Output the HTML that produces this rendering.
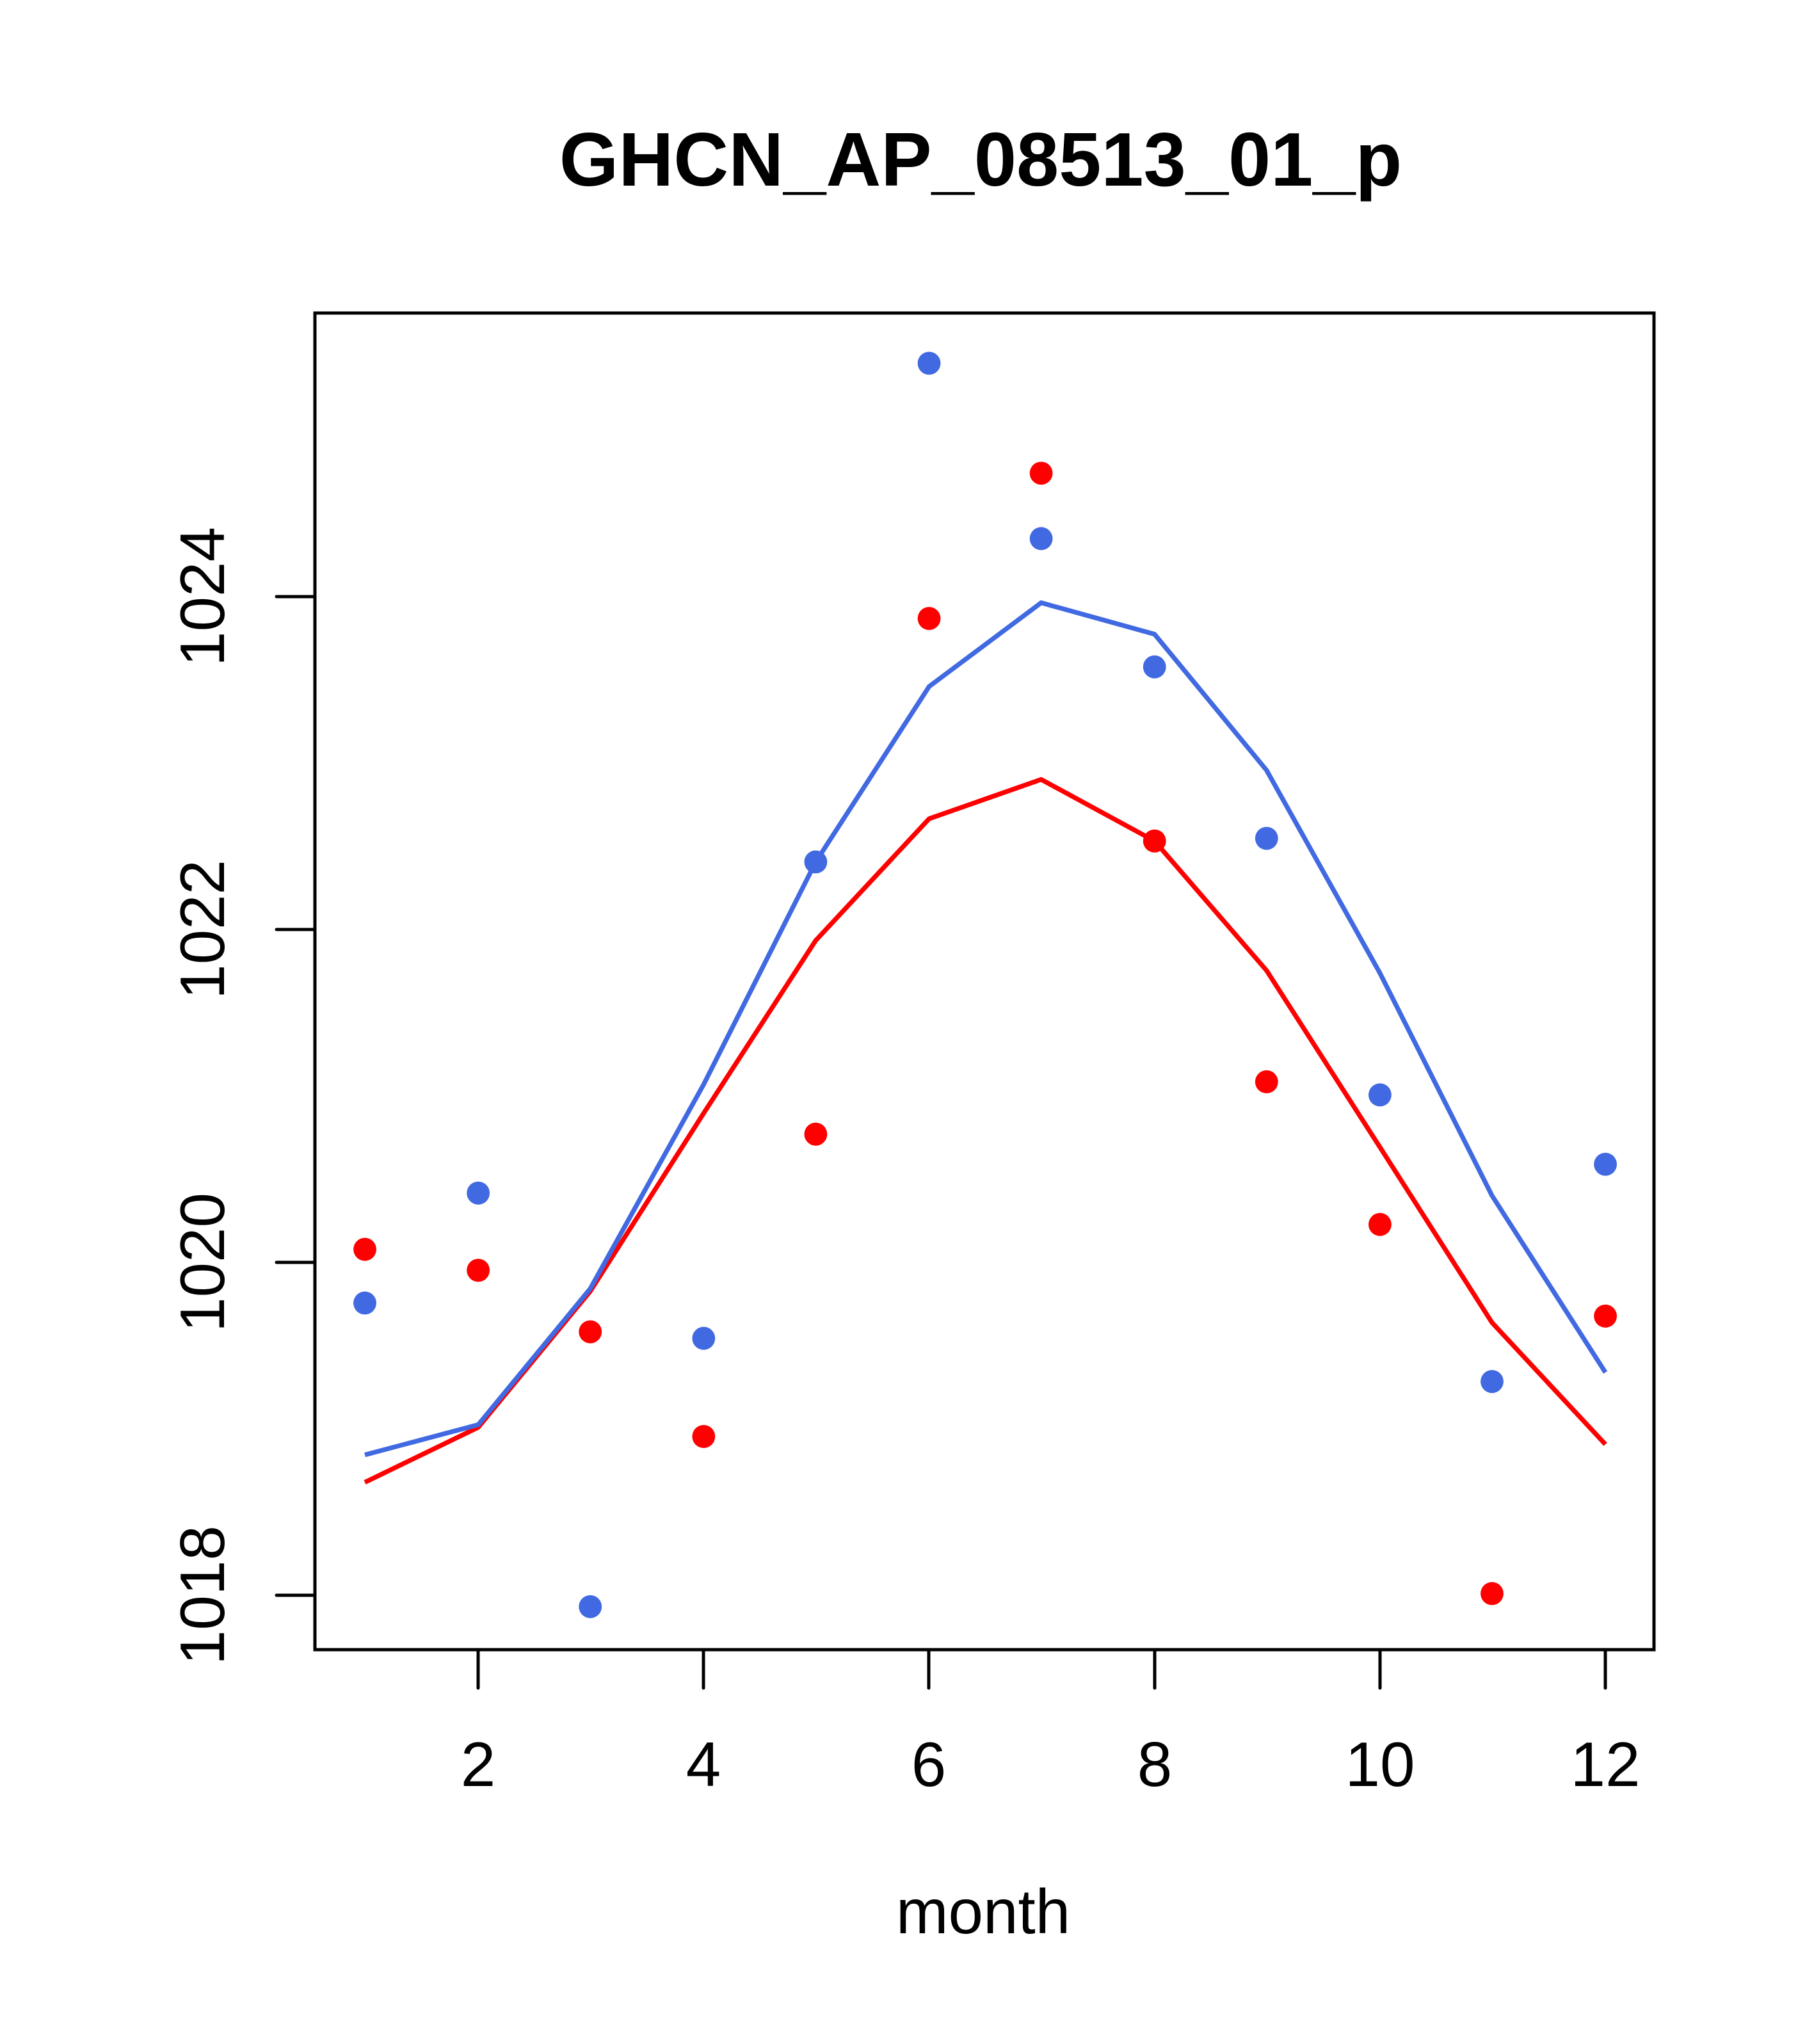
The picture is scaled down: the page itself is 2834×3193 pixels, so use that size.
<!DOCTYPE html>
<html><head><style>html,body{margin:0;padding:0;background:#fff}</style></head>
<body>
<svg xmlns="http://www.w3.org/2000/svg" width="2834" height="3188" viewBox="0 0 2834 3188" font-family="Liberation Sans, Arial, sans-serif">
<rect width="2834" height="3188" fill="#fff"/>
<text x="1532" y="290" font-size="119" font-weight="bold" text-anchor="middle">GHCN_AP_08513_01_p</text>
<rect x="492" y="489" width="2092" height="2088" fill="none" stroke="#000" stroke-width="5"/>
<g stroke="#000" stroke-width="5" stroke-linecap="round">
<line x1="747" y1="2577" x2="747" y2="2637"/><line x1="1099" y1="2577" x2="1099" y2="2637"/>
<line x1="1451" y1="2577" x2="1451" y2="2637"/><line x1="1804" y1="2577" x2="1804" y2="2637"/>
<line x1="2156" y1="2577" x2="2156" y2="2637"/><line x1="2508" y1="2577" x2="2508" y2="2637"/>
<line x1="432" y1="932" x2="492" y2="932"/><line x1="432" y1="1452" x2="492" y2="1452"/>
<line x1="432" y1="1972" x2="492" y2="1972"/><line x1="432" y1="2492" x2="492" y2="2492"/>
</g>
<g font-size="98" text-anchor="middle">
<text x="747" y="2790">2</text><text x="1099" y="2790">4</text><text x="1451" y="2790">6</text>
<text x="1804" y="2790">8</text><text x="2156" y="2790">10</text><text x="2508" y="2790">12</text>
<text transform="translate(350,932) rotate(-90)">1024</text>
<text transform="translate(350,1452) rotate(-90)">1022</text>
<text transform="translate(350,1972) rotate(-90)">1020</text>
<text transform="translate(350,2492) rotate(-90)">1018</text>
<text x="1536" y="3020">month</text>
</g>
<g transform="matrix(2.0358 0 0 2.0446 0 -3)">
<polyline fill="none" stroke="#ff0000" stroke-width="3.6" stroke-linejoin="round" points="280,1134 367,1092 453,988 540,852 626,720 713,627 799,597 886,644 972,743 1059,878 1145,1012 1232,1105"/>
<polyline fill="none" stroke="#4169e1" stroke-width="3.6" stroke-linejoin="round" points="280,1113 367,1090 453,986 540,830 626,660 713,526 799,462 886,486 972,590 1059,745 1145,915 1232,1050"/>
<g fill="#4169e1">
<circle cx="280" cy="997" r="8.8"/><circle cx="367" cy="913" r="8.8"/><circle cx="453" cy="1229" r="8.8"/><circle cx="540" cy="1024" r="8.8"/>
<circle cx="626" cy="660" r="8.8"/><circle cx="713" cy="279" r="8.8"/><circle cx="799" cy="413" r="8.8"/><circle cx="886" cy="511" r="8.8"/>
<circle cx="972" cy="642" r="8.8"/><circle cx="1059" cy="838" r="8.8"/><circle cx="1145" cy="1057" r="8.8"/><circle cx="1232" cy="891" r="8.8"/>
</g>
<g fill="#ff0000">
<circle cx="280" cy="956" r="8.8"/><circle cx="367" cy="972" r="8.8"/><circle cx="453" cy="1019" r="8.8"/><circle cx="540" cy="1099" r="8.8"/>
<circle cx="626" cy="868" r="8.8"/><circle cx="713" cy="474" r="8.8"/><circle cx="799" cy="363" r="8.8"/><circle cx="886" cy="644" r="8.8"/>
<circle cx="972" cy="828" r="8.8"/><circle cx="1059" cy="937" r="8.8"/><circle cx="1145" cy="1219" r="8.8"/><circle cx="1232" cy="1007" r="8.8"/>
</g>
</g>
</svg>
</body></html>
